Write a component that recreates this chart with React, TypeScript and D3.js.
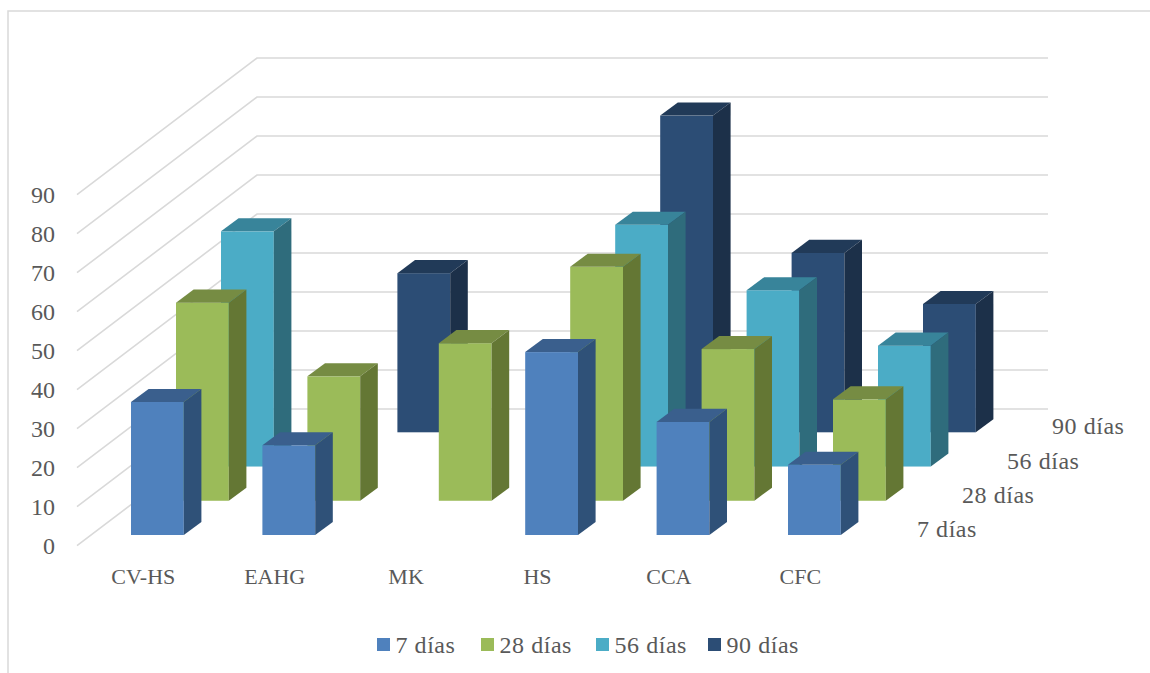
import React from "react";
import * as d3 from "d3";

const categories = ["CV-HS", "EAHG", "MK", "HS", "CCA", "CFC"];
const seriesNames = ["7 días", "28 días", "56 días", "90 días"];
const valueTicks = [0, 10, 20, 30, 40, 50, 60, 70, 80, 90];

// One value per category; null where the mix has no result at that age
const dias7 = [34.1, 23, null, 46.9, 29, 18];
const dias28 = [50.8, 31.9, 40.4, 60, 38.9, 26];
const dias56 = [60.3, null, null, 62, 45.2, 31];
const dias90 = [null, 40.8, null, 81.2, 46, 32.9];
const seriesValues = [dias7, dias28, dias56, dias90];

const faceColors = ["#4F81BD", "#9BBB59", "#4BACC6", "#2C4D75"];
const topColors = ["#3A5F8D", "#768C43", "#38849A", "#213A58"];
const sideColors = ["#2F5178", "#647734", "#2F6C7C", "#1C3049"];

const W = 1150;
const H = 673;
const FONT = "'Liberation Serif', serif";
const TEXT = "#595959";
const GRID = "#D9D9D9";

// Oblique projection constants of the 3D box
const barW = 52.8;
const depthX = 17.6;
const depthY = 13.1;
const frontBase = 535;

const heightScale = d3.scaleLinear().domain([0, 90]).range([0, 351]);
const catX = d3.scalePoint<string>().domain(categories).range([131, 788]);
const rowX = d3.scalePoint<string>().domain(seriesNames).range([0, 135]);
const rowY = d3.scalePoint<string>().domain(seriesNames).range([0, 102.7]);

const wallBase = 409;
const floorFrontBase = 545.7;
const wallLeft = 257;
const wallRight = 1048;
const floorLeft = 77;

const pts = (p: [number, number][]) => p.map((d) => d.join(",")).join(" ");

export default function App() {
  const bars = d3.range(seriesNames.length - 1, -1, -1).flatMap((s) =>
    categories.map((c, i) => {
      const v = seriesValues[s][i];
      if (v == null) return null;
      const name = seriesNames[s];
      const x = catX(c)! + rowX(name)!;
      const base = frontBase - rowY(name)!;
      const top = base - heightScale(v);
      const r = x + barW;
      return (
        <g key={`${s}-${c}`}>
          <rect x={x} y={top} width={barW} height={base - top} fill={faceColors[s]} />
          <polygon
            points={pts([[x, top], [x + depthX, top - depthY], [r + depthX, top - depthY], [r, top]])}
            fill={topColors[s]}
          />
          <polygon
            points={pts([[r, top], [r + depthX, top - depthY], [r + depthX, base - depthY], [r, base]])}
            fill={sideColors[s]}
          />
        </g>
      );
    })
  );

  const legendX = [377, 481, 596, 708];

  return (
    <svg width={W} height={H} style={{ position: "absolute", left: 0, top: 0, background: "#fff" }} fontFamily={FONT}>
      <path d={`M8,${H}V11H${W}`} fill="none" stroke={GRID} strokeWidth={1.5} />

      {valueTicks.map((t) => {
        const h = heightScale(t);
        return (
          <g key={t}>
            <polyline
              points={pts([
                [floorLeft, floorFrontBase - h],
                [wallLeft, wallBase - h],
                [wallRight, wallBase - h],
              ])}
              fill="none"
              stroke={GRID}
              strokeWidth={1.6}
            />
            <text x={55} y={floorFrontBase - h} textAnchor="end" dominantBaseline="central" fontSize={24} fill={TEXT}>
              {t}
            </text>
          </g>
        );
      })}

      {bars}

      {categories.map((c) => (
        <text key={c} x={catX(c)! + 12.3} y={576} textAnchor="middle" dominantBaseline="central" fontSize={22} fill={TEXT}>
          {c}
        </text>
      ))}

      {seriesNames.map((n) => (
        <text
          key={n}
          x={917 + rowX(n)!}
          y={529 - rowY(n)!}
          dominantBaseline="central"
          fontSize={24}
          letterSpacing={0.55}
          fill={TEXT}
        >
          {n}
        </text>
      ))}

      {seriesNames.map((n, i) => (
        <g key={n}>
          <rect x={legendX[i]} y={638} width={13} height={13} fill={faceColors[i]} />
          <text x={legendX[i] + 18.5} y={644.5} dominantBaseline="central" fontSize={24} letterSpacing={0.55} fill={TEXT}>
            {n}
          </text>
        </g>
      ))}
    </svg>
  );
}
